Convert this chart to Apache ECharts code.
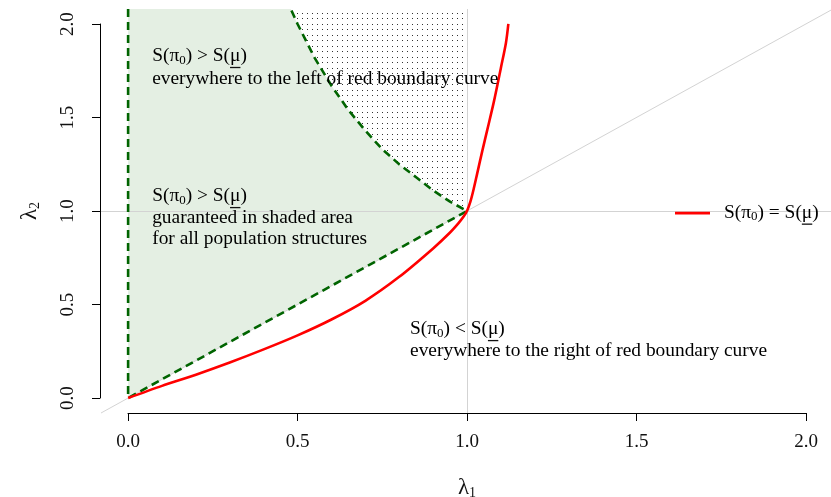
<!DOCTYPE html>
<html>
<head>
<meta charset="utf-8">
<script src="https://cdn.jsdelivr.net/npm/echarts@6/dist/echarts.min.js"></script>
<style>
  html, body { margin: 0; padding: 0; background: #fff; }
  #main { width: 831px; height: 497px; }
</style>
</head>
<body>
<div id="main"></div>
<script>
// red boundary curve S(pi0) = S(mu)
var redX = [0, 0.1, 0.2, 0.3, 0.4, 0.5, 0.6, 0.7, 0.8, 0.9, 0.95, 0.975, 0.99, 1.0,
            1.01, 1.02, 1.03, 1.045, 1.06, 1.08, 1.1, 1.115, 1.122];
var redY = [0, 0.065, 0.125, 0.19, 0.26, 0.335, 0.42, 0.52, 0.648, 0.8, 0.885, 0.935, 0.97, 1.0,
            1.05, 1.12, 1.2, 1.32, 1.435, 1.59, 1.765, 1.9, 2.0];
// dashed upper boundary of the shaded area
var bndX = [0.48, 0.5, 0.55, 0.6, 0.65, 0.7, 0.75, 0.8, 0.85, 0.9, 0.95, 1.0];
var bndY = [2.08, 2.0, 1.82, 1.67, 1.54, 1.43, 1.33, 1.25, 1.18, 1.11, 1.05, 1.0];
// annotations: position + relation sign (null = plain text line)
var annX = [0.071, 0.071, 0.071, 0.071, 0.071, 0.832, 0.832];
var annY = [1.826, 1.705, 1.077, 0.962, 0.852, 0.366, 0.252];
var annRel = ['>', null, '>', null, null, '<', null];
var annText = [
  '',
  'everywhere to the left of red boundary curve',
  '',
  'guaranteed in shaded area',
  'for all population structures',
  '',
  'everywhere to the right of red boundary curve'
];
var legendRel = '=';
var legendName = 'S(π0) = S(μ)';

var LOW = -0.08, TOP = 2.08;
var FONT = 'Liberation Serif';
var FS = 19.4;

var zip = function(a, b) { return a.map(function(v, i) { return [v, b[i]]; }); };
var bnd = zip(bndX, bndY);
var greenPoly = [[0, 0], [0, TOP]].concat(bnd);
var dotPoly = bnd.concat([[1, TOP]]);
var dashPath = [[0, TOP], [0, 0], [1, 1]].concat(bnd.slice().reverse());

// dotted fill pattern
var pat = document.createElement('canvas');
pat.width = 10; pat.height = 11;
var pctx = pat.getContext('2d');
pctx.fillStyle = '#333';
pctx.fillRect(2, 2, 1, 1); pctx.fillRect(7, 2, 1, 1);
pctx.fillRect(2, 7, 1, 1); pctx.fillRect(7, 7, 1, 1);

// text widths, needed to put the underline under mu
var mctx = document.createElement('canvas').getContext('2d');
function tw(str, size) {
  mctx.font = size + 'px "' + FONT + '"';
  return mctx.measureText(str).width;
}
function lead(rel) {
  return { fontSize: 1, lineHeight: 1.3, height: 1.3,
    width: tw('S(π', FS) + tw('0', 13) + tw(') ' + rel + ' S(', FS) };
}
function exprText(rel) {
  return '{t|S(π}{s|0}{t|) ' + rel + ' S(μ)}\n{sp| }{ul| }';
}
var richText = {
  t: { fontFamily: FONT, fontSize: FS, color: '#000', lineHeight: 22 },
  s: { fontFamily: FONT, fontSize: 13, color: '#000', lineHeight: 14, verticalAlign: 'bottom' },
  sp: lead('>'),
  ul: { fontSize: 1, lineHeight: 1.3, height: 1.3, width: tw('μ', FS), backgroundColor: '#111' }
};
var richEq = Object.assign({}, richText, { sp: lead('=') });
var richLt = Object.assign({}, richText, { sp: lead('<') });
var nameRich = {
  t: { fontFamily: FONT, fontSize: 23, color: '#111', lineHeight: 24 },
  s: { fontFamily: FONT, fontSize: 14, color: '#111', lineHeight: 14, verticalAlign: 'bottom' }
};

function polySeries(points, fill, z) {
  return {
    type: 'custom', xAxisIndex: 0, yAxisIndex: 0, z: z, silent: true,
    data: [0],
    renderItem: function(params, api) {
      return {
        type: 'polygon',
        shape: { points: points.map(function(p) { return api.coord(p); }) },
        style: { fill: fill, stroke: null }
      };
    }
  };
}

var annData = annX.map(function(x, i) {
  var item = { value: [x, annY[i]], text: annRel[i] ? exprText(annRel[i]) : annText[i] };
  if (annRel[i] === '<') item.label = { rich: richLt };
  return item;
});

var myChart = echarts.init(document.getElementById('main'));
var option = {
  animation: false,
  backgroundColor: '#fff',
  grid: [
    { left: 101, top: 9, width: 732, height: 404, outerBoundsMode: 'none' },
    { left: 128, top: 24, width: 678, height: 374, outerBoundsMode: 'none' }
  ],
  xAxis: [
    { gridIndex: 0, type: 'value', min: LOW, max: TOP, show: false },
    {
      gridIndex: 1, type: 'value', min: 0, max: 2, interval: 0.5, offset: 15,
      axisLine: { onZero: false, lineStyle: { color: '#000', width: 1 } },
      axisTick: { length: 8, lineStyle: { color: '#000' } },
      splitLine: { show: false },
      axisLabel: { color: '#111', fontFamily: FONT, fontSize: 19, margin: 20,
        formatter: function(v) { return v.toFixed(1); } },
      name: '{t|λ}{s|1}', nameLocation: 'middle', nameGap: 63,
      nameTextStyle: { rich: nameRich }
    }
  ],
  yAxis: [
    { gridIndex: 0, type: 'value', min: LOW, max: TOP, show: false },
    {
      gridIndex: 1, type: 'value', min: 0, max: 2, interval: 0.5, offset: 28,
      axisLine: { show: true, onZero: false, lineStyle: { color: '#000', width: 1 } },
      axisTick: { show: true, length: 8, lineStyle: { color: '#000' } },
      splitLine: { show: false },
      axisLabel: { color: '#111', fontFamily: FONT, fontSize: 19, margin: 22, rotate: 90,
        formatter: function(v) { return v.toFixed(1); } },
      name: '{t|λ}{s|2}', nameLocation: 'middle', nameGap: 58, nameRotate: 90,
      nameTextStyle: { rich: nameRich }
    }
  ],
  legend: {
    left: 670, top: 198, itemWidth: 35, itemHeight: 2.6, icon: 'rect',
    data: [legendName],
    formatter: function() { return exprText(legendRel); },
    textStyle: { padding: [0, 0, 0, 9], rich: richEq }
  },
  series: [
    polySeries(greenPoly, '#e4efe3', 1),
    polySeries(dotPoly, { image: pat, repeat: 'repeat' }, 1),
    {
      type: 'line', xAxisIndex: 0, yAxisIndex: 0, z: 2, silent: true,
      data: [], symbol: 'none',
      markLine: {
        silent: true, symbol: 'none', z: 2, label: { show: false },
        lineStyle: { color: '#d3d3d3', width: 1, type: 'solid' },
        data: [
          { yAxis: 1 },
          { xAxis: 1 },
          [{ coord: [LOW, LOW] }, { coord: [TOP, TOP] }]
        ]
      }
    },
    {
      type: 'line', xAxisIndex: 0, yAxisIndex: 0, z: 3, silent: true,
      data: dashPath, symbol: 'none',
      lineStyle: { color: '#006400', width: 2.6, type: [8, 5] }
    },
    {
      name: legendName,
      type: 'line', xAxisIndex: 0, yAxisIndex: 0, z: 4, silent: true,
      data: zip(redX, redY), symbol: 'none', smooth: 0.3,
      itemStyle: { color: '#ff0000' },
      lineStyle: { color: '#ff0000', width: 2.6 }
    },
    {
      type: 'scatter', xAxisIndex: 0, yAxisIndex: 0, z: 5, silent: true,
      symbolSize: 0, itemStyle: { color: '#000', opacity: 1 },
      data: annData,
      label: {
        show: true, position: 'right', distance: 0,
        fontFamily: FONT, fontSize: FS, color: '#000',
        formatter: function(p) { return p.data.text; },
        rich: richText
      },
      emphasis: { disabled: true }
    }
  ]
};
myChart.setOption(option);
</script>
</body>
</html>
